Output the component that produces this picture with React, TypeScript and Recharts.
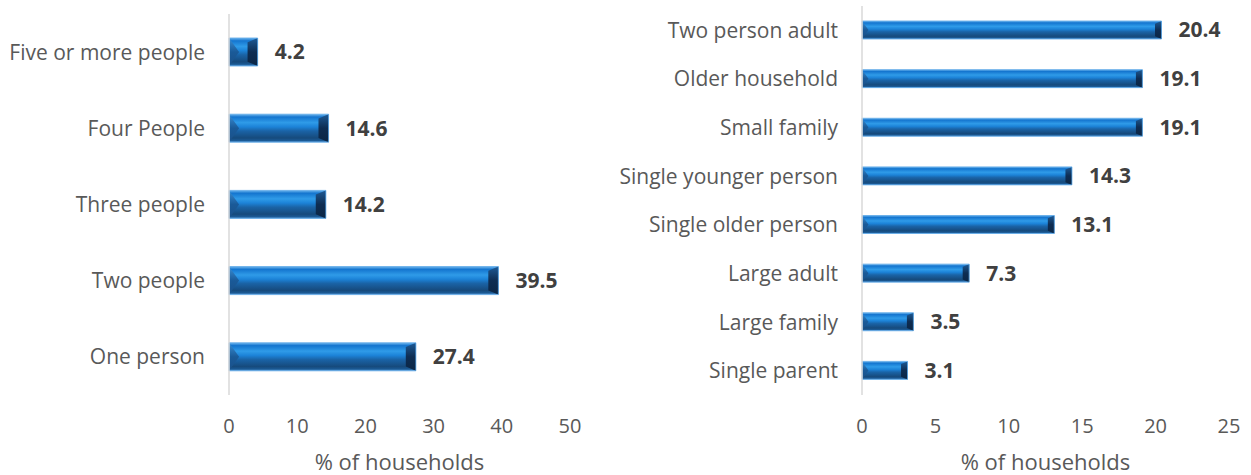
import React from 'react';
import { BarChart, Bar, XAxis, YAxis, LabelList, Label } from 'recharts';

const sizeCategories = ['Five or more people', 'Four People', 'Three people', 'Two people', 'One person'];
const sizeValues = [4.2, 14.6, 14.2, 39.5, 27.4];
const sizeTicks = [0, 10, 20, 30, 40, 50];

const typeCategories = [
  'Two person adult',
  'Older household',
  'Small family',
  'Single younger person',
  'Single older person',
  'Large adult',
  'Large family',
  'Single parent',
];
const typeValues = [20.4, 19.1, 19.1, 14.3, 13.1, 7.3, 3.5, 3.1];
const typeTicks = [0, 5, 10, 15, 20, 25];

const axisTitle = '% of households';

const sizeData = sizeCategories.map((name, i) => ({ name, value: sizeValues[i] }));
const typeData = typeCategories.map((name, i) => ({ name, value: typeValues[i] }));

const FONT = '"Open Sans", sans-serif';

const Defs = () => (
  <svg width={0} height={0} style={{ position: 'absolute' }}>
    <defs>
      <linearGradient id="barGrad" x1="0" y1="0" x2="0" y2="1">
        <stop offset="0%" stopColor="#6db6ee" />
        <stop offset="10%" stopColor="#1475cf" />
        <stop offset="30%" stopColor="#2f9be8" />
        <stop offset="45%" stopColor="#1c83d8" />
        <stop offset="60%" stopColor="#1a63a6" />
        <stop offset="85%" stopColor="#164a7c" />
        <stop offset="94%" stopColor="#1b5a95" />
        <stop offset="100%" stopColor="#5a9bd8" />
      </linearGradient>
      <linearGradient id="bevelR" x1="0" y1="0" x2="0" y2="1">
        <stop offset="0%" stopColor="#1d5a96" />
        <stop offset="50%" stopColor="#0e2d52" />
        <stop offset="100%" stopColor="#0b2645" />
      </linearGradient>
      <linearGradient id="bevelL" x1="0" y1="0" x2="0" y2="1">
        <stop offset="0%" stopColor="#3a8fd6" />
        <stop offset="50%" stopColor="#1a5a98" />
        <stop offset="100%" stopColor="#1b5088" />
      </linearGradient>
    </defs>
  </svg>
);

const BevelBar = (props: any) => {
  const x = Number(props.x);
  const y = Number(props.y);
  const width = Number(props.width);
  const height = Number(props.height);
  if (!(width > 0) || !(height > 0)) return null;
  const b = Math.min(height * 0.36, width / 2);
  const v = height * 0.15;
  const body = `M${x},${y} L${x + width},${y} L${x + width},${y + height} L${x},${y + height} Z`;
  return (
    <g>
      <path d={body} fill="url(#barGrad)" />
      <path
        d={`M${x + width},${y} L${x + width},${y + height} L${x + width - b},${y + height - v} L${x + width - b},${y + v} Z`}
        fill="url(#bevelR)"
      />
      <path
        d={`M${x},${y} L${x + b},${y + height / 2} L${x},${y + height} Z`}
        fill="url(#bevelL)"
      />
      <path d={body} fill="none" stroke="#5aa6e6" strokeWidth={0.8} />
    </g>
  );
};

const catStyle = { fill: '#595959', fontSize: 21, fontFamily: FONT };
const tickStyle = { fill: '#595959', fontSize: 20, fontFamily: FONT };
const titleStyle = { fill: '#595959', fontSize: 22, fontFamily: FONT };
const valueStyle = { fill: '#404040', fontSize: 21, fontWeight: 700, fontFamily: FONT };

export default function App() {
  return (
    <div style={{ position: 'absolute', left: 0, top: 0, width: 1251, height: 475, background: '#fff' }}>
      <Defs />
      <div style={{ position: 'absolute', left: 0, top: 0 }}>
        <BarChart
          width={620}
          height={475}
          data={sizeData}
          layout="vertical"
          margin={{ top: 14, right: 50, bottom: 0, left: 0 }}
          barSize={28}
        >
          <XAxis
            type="number"
            domain={[0, 50]}
            ticks={sizeTicks}
            axisLine={false}
            tickLine={false}
            tickSize={0}
            tickMargin={24}
            height={80}
            tick={tickStyle}
            interval={0}
          >
            <Label value={axisTitle} position="insideBottom" offset={5} style={titleStyle} />
          </XAxis>
          <YAxis
            type="category"
            dataKey="name"
            width={229}
            axisLine={{ stroke: '#d9d9d9', strokeWidth: 1.5 }}
            tickLine={false}
            tickSize={0}
            tickMargin={24}
            tick={catStyle}
            interval={0}
          />
          <Bar dataKey="value" shape={<BevelBar />} isAnimationActive={false}>
            <LabelList dataKey="value" position="right" offset={17} style={valueStyle} />
          </Bar>
        </BarChart>
      </div>
      <div style={{ position: 'absolute', left: 620, top: 0 }}>
        <BarChart
          width={631}
          height={475}
          data={typeData}
          layout="vertical"
          margin={{ top: 6, right: 22, bottom: 0, left: 0 }}
          barSize={18}
        >
          <XAxis
            type="number"
            domain={[0, 25]}
            ticks={typeTicks}
            axisLine={false}
            tickLine={false}
            tickSize={0}
            tickMargin={24}
            height={80}
            tick={tickStyle}
            interval={0}
          >
            <Label value={axisTitle} position="insideBottom" offset={5} style={titleStyle} />
          </XAxis>
          <YAxis
            type="category"
            dataKey="name"
            width={242}
            axisLine={{ stroke: '#d9d9d9', strokeWidth: 1.5 }}
            tickLine={false}
            tickSize={0}
            tickMargin={24}
            tick={catStyle}
            interval={0}
          />
          <Bar dataKey="value" shape={<BevelBar />} isAnimationActive={false}>
            <LabelList dataKey="value" position="right" offset={17} style={valueStyle} />
          </Bar>
        </BarChart>
      </div>
    </div>
  );
}
